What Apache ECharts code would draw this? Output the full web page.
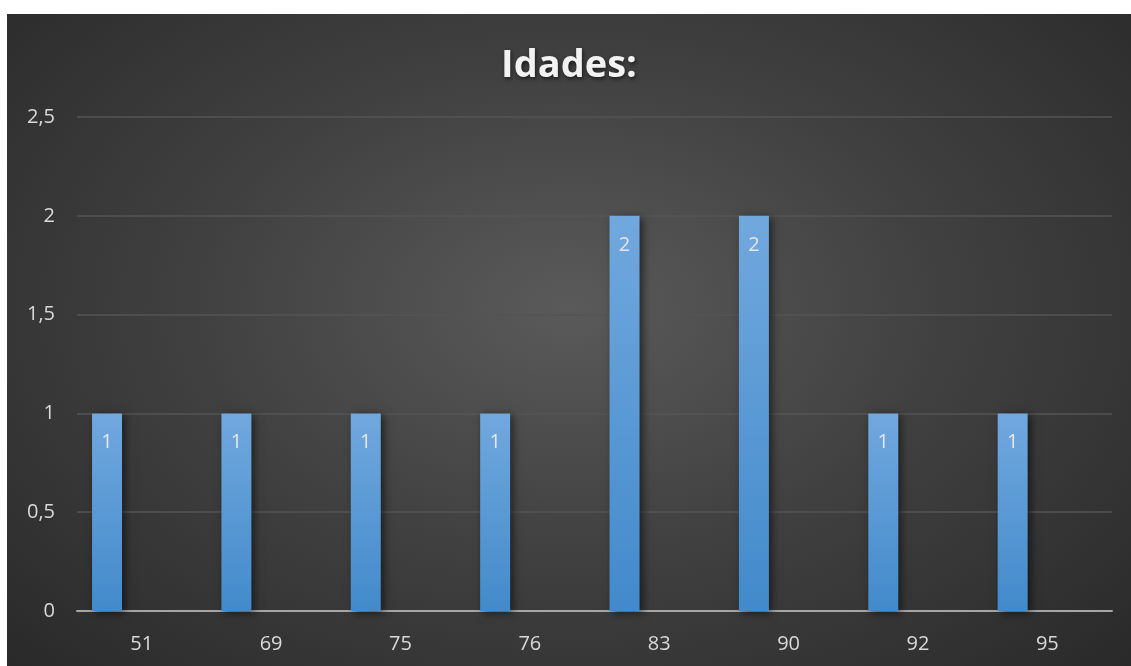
<!DOCTYPE html>
<html><head><meta charset="utf-8">
<script src="https://cdn.jsdelivr.net/npm/echarts@6/dist/echarts.min.js"></script>
<style>
html,body{margin:0;padding:0;background:#fff;width:1131px;height:666px;overflow:hidden;}
#c{position:absolute;left:7px;top:14px;width:1124px;height:652px;
background:radial-gradient(ellipse 75% 85% at 50% 45%, #5a5a5a 0%, #404040 45%, #262626 100%);}
</style></head><body>
<div id="c"></div>
<script>
const categories = ['51','69','75','76','83','90','92','95'];
const counts = [1,1,1,1,2,2,1,1];
const emptySeries = [null,null,null,null,null,null,null,null];
const yTicks = {min:0, max:2.5, interval:0.5};
const titleText = 'Idades:';

const chart = echarts.init(document.getElementById('c'), null, {renderer:'canvas'});
const font = '"Open Sans", "DejaVu Sans", sans-serif';
chart.setOption({
  animation:false,
  title:{text:titleText,left:'center',top:28,
    textStyle:{color:'#f2f2f2',fontSize:38,fontWeight:'bold',fontFamily:font,
      textShadowColor:'rgba(0,0,0,0.6)',textShadowBlur:4,textShadowOffsetX:1,textShadowOffsetY:2}},
  grid:{left:70,right:19,top:103,bottom:55,containLabel:false},
  xAxis:{type:'category',data:categories,
    axisLine:{lineStyle:{color:'#a6a6a6',width:2}},
    axisTick:{show:false},
    axisLabel:{color:'#d9d9d9',fontSize:20,fontFamily:font,margin:23}},
  yAxis:{type:'value',min:yTicks.min,max:yTicks.max,interval:yTicks.interval,
    axisLine:{show:false},axisTick:{show:false},
    splitLine:{lineStyle:{color:'#555555',width:1.5}},
    axisLabel:{color:'#d9d9d9',fontSize:20,fontFamily:font,margin:22,
      formatter:v=>String(v).replace('.',',')}},
  series:[
    {type:'bar',data:counts,barWidth:30,barGap:'131%',
     itemStyle:{color:new echarts.graphic.LinearGradient(0,0,0,1,[{offset:0,color:'#71a8de'},{offset:1,color:'#428acb'}]),
       shadowColor:'rgba(0,0,0,0.55)',shadowBlur:8,shadowOffsetX:3,shadowOffsetY:2},
     label:{show:true,position:'insideTop',distance:19,color:'#e6e6e6',fontSize:20,fontFamily:font}},
    {type:'bar',data:emptySeries,barWidth:30}
  ]
});
</script></body></html>
